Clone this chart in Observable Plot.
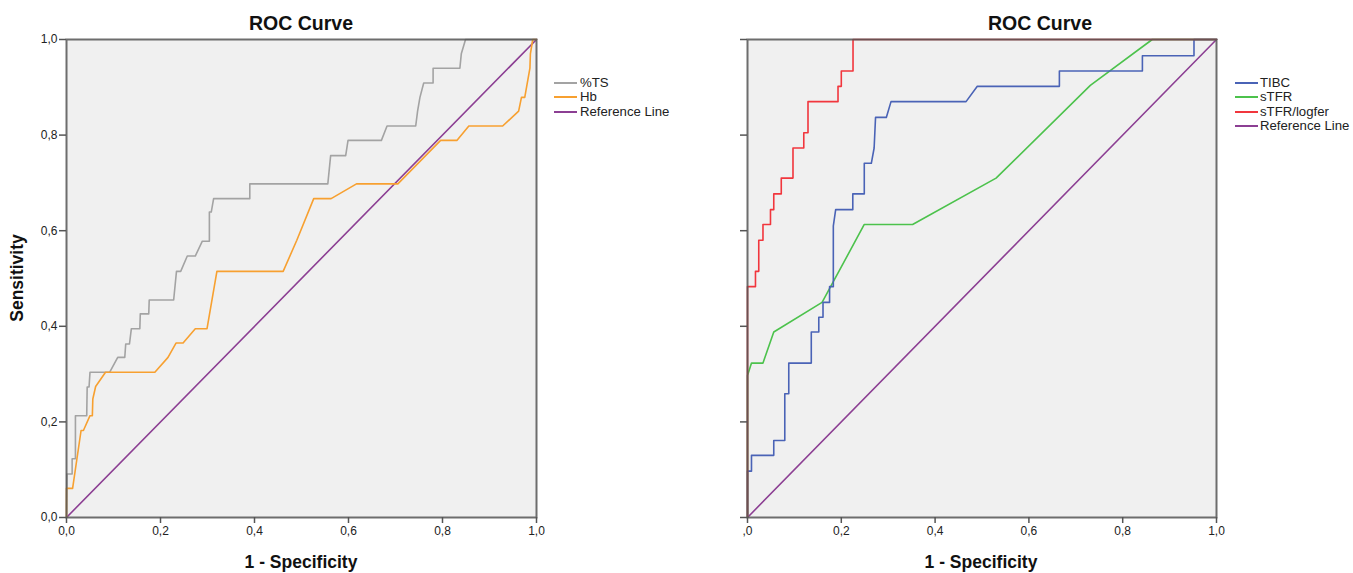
<!DOCTYPE html>
<html>
<head>
<meta charset="utf-8">
<script src="https://cdn.jsdelivr.net/npm/d3@7"></script>
<script src="https://cdn.jsdelivr.net/npm/@observablehq/plot@0.6"></script>
<style>
  html, body { margin: 0; padding: 0; background: #fff; }
  body { width: 1353px; height: 573px; position: relative; overflow: hidden; font-family: "Liberation Sans", Arial, sans-serif; }
  .abs { position: absolute; white-space: nowrap; }
  .title { font-weight: bold; font-size: 19.5px; color: #111; transform: translate(-50%, -50%); line-height: 1; }
  .axlab { font-weight: bold; font-size: 17.5px; color: #111; line-height: 1; }
  .leg { font-size: 13.2px; color: #222; line-height: 1; }
  .sw { position: absolute; height: 2px; width: 23px; }
  .panel { position: absolute; top: 0; overflow: hidden; }
</style>
</head>
<body>
<div id="left" class="panel" style="left:0px;width:545px;height:573px;"></div>
<div id="right" class="panel" style="left:738px;width:495px;height:573px;"></div>
<div id="texts"></div>
<script>
// ---- Data ----
const tickValues = [0, 0.2, 0.4, 0.6, 0.8, 1.0];
const refLineX = [0, 1];
const refLineY = [0, 1];

// Left panel: %TS
const tsX = [0,0.001,0.012,0.012,0.019,0.019,0.043,0.044,0.048,0.05,0.092,0.109,0.124,0.126,0.134,0.138,0.156,0.157,0.175,0.176,0.228,0.234,0.243,0.257,0.274,0.289,0.304,0.304,0.308,0.313,0.39,0.39,0.556,0.562,0.594,0.599,0.67,0.682,0.743,0.747,0.752,0.76,0.78,0.78,0.837,0.84,0.849,1];
const tsY = [0,0.091,0.091,0.123,0.123,0.213,0.213,0.273,0.273,0.304,0.304,0.335,0.335,0.363,0.363,0.395,0.395,0.426,0.426,0.455,0.455,0.515,0.515,0.547,0.547,0.578,0.578,0.639,0.639,0.667,0.667,0.698,0.698,0.757,0.757,0.789,0.789,0.819,0.819,0.85,0.879,0.909,0.909,0.94,0.94,0.97,1,1];

// Left panel: Hb
const hbX = [0,0,0.013,0.031,0.036,0.05,0.055,0.056,0.062,0.083,0.188,0.216,0.233,0.248,0.274,0.299,0.32,0.461,0.49,0.526,0.563,0.617,0.705,0.796,0.831,0.856,0.928,0.962,0.968,0.975,0.986,0.987,0.992,1];
const hbY = [0,0.061,0.061,0.182,0.182,0.213,0.213,0.248,0.274,0.304,0.304,0.335,0.365,0.365,0.395,0.395,0.515,0.515,0.58,0.667,0.667,0.698,0.698,0.789,0.789,0.819,0.819,0.85,0.879,0.879,0.94,0.97,1,1];

// Right panel: TIBC
const tibcX = [0,0,0.0085,0.0085,0.056,0.056,0.0795,0.0795,0.088,0.088,0.136,0.136,0.152,0.152,0.161,0.161,0.175,0.175,0.183,0.183,0.188,0.2245,0.2245,0.249,0.249,0.264,0.27,0.273,0.296,0.306,0.466,0.49,0.665,0.665,0.842,0.842,0.952,0.952,1];
const tibcY = [0,0.097,0.097,0.13,0.13,0.161,0.161,0.259,0.259,0.323,0.323,0.388,0.388,0.419,0.419,0.45,0.45,0.483,0.483,0.61,0.644,0.644,0.677,0.677,0.741,0.741,0.773,0.837,0.837,0.87,0.87,0.902,0.902,0.934,0.934,0.966,0.966,1,1];

// Right panel: sTFR
const stfrX = [0,0,0.0085,0.033,0.056,0.159,0.249,0.352,0.53,0.731,0.863,1];
const stfrY = [0,0.297,0.323,0.323,0.388,0.45,0.613,0.613,0.71,0.904,1,1];

// Right panel: sTFR/logfer
const ratioX = [0,0,0.017,0.017,0.024,0.024,0.033,0.033,0.049,0.049,0.056,0.056,0.072,0.072,0.097,0.097,0.12,0.12,0.129,0.129,0.193,0.193,0.2,0.2,0.225,0.225,1];
const ratioY = [0,0.483,0.483,0.515,0.515,0.58,0.58,0.613,0.613,0.644,0.644,0.677,0.677,0.71,0.71,0.773,0.773,0.805,0.805,0.87,0.87,0.902,0.902,0.934,0.934,1,1];

const leftSeries = ["%TS", "Hb", "Reference Line"];
const rightSeries = ["TIBC", "sTFR", "sTFR/logfer", "Reference Line"];
const colors = {"%TS": "#a3a3a3", "Hb": "#f7a030", "TIBC": "#4a63b6", "sTFR": "#4cc24c", "sTFR/logfer": "#f1363d", "Reference Line": "#8c3f93"};

// ---- Build ----
const pts = (xs, ys) => xs.map((x, i) => ({x, y: ys[i]}));
const fmt = d => d.toFixed(1).replace(".", ",");
// the right panel is cropped at its left edge in the reference: its first x label reads ",0"
const fmtRight = d => d === 0 ? ",0" : fmt(d);

function panel({width, marginLeft, marginRight, series, xFormat, yFormat}) {
  const marks = [Plot.frame({fill: "#f0f0f0", stroke: null})];
  for (const s of series) {
    marks.push(Plot.line(s.data, {x: "x", y: "y", stroke: colors[s.name], strokeWidth: 1.6}));
  }
  marks.push(Plot.frame({stroke: "#555", strokeWidth: 2, strokeOpacity: 0.85}));
  marks.push(Plot.axisX({ticks: tickValues, tickFormat: xFormat, tickSize: 6, tickPadding: 3, label: null, stroke: "#555", strokeWidth: 1.5}));
  marks.push(Plot.axisY({ticks: tickValues, tickFormat: yFormat, tickSize: 7, tickPadding: 2, label: null, stroke: "#555", strokeWidth: 1.5}));
  return Plot.plot({
    width, height: 573,
    marginLeft, marginRight, marginTop: 39, marginBottom: 56,
    x: {domain: [0, 1]},
    y: {domain: [0, 1]},
    style: {fontSize: "12px", fontFamily: "'Liberation Sans', Arial, sans-serif", color: "#222", background: "transparent"},
    marks
  });
}

const ref = pts(refLineX, refLineY);
document.getElementById("left").append(panel({
  width: 545, marginLeft: 66, marginRight: 9, xFormat: fmt, yFormat: fmt,
  series: [
    {name: "Reference Line", data: ref},
    {name: "%TS", data: pts(tsX, tsY)},
    {name: "Hb", data: pts(hbX, hbY)}
  ]
}));
document.getElementById("right").append(panel({
  width: 495, marginLeft: 9, marginRight: 17, xFormat: fmtRight, yFormat: () => "",
  series: [
    {name: "Reference Line", data: ref},
    {name: "sTFR", data: pts(stfrX, stfrY)},
    {name: "TIBC", data: pts(tibcX, tibcY)},
    {name: "sTFR/logfer", data: pts(ratioX, ratioY)}
  ]
}));

// ---- Titles, axis labels, legends ----
const T = document.getElementById("texts");
function add(html, cls, style) {
  const d = document.createElement("div");
  d.className = "abs " + cls;
  d.setAttribute("style", style);
  d.innerHTML = html;
  T.append(d);
  return d;
}
add("ROC Curve", "title", "left:301px;top:24px;");
add("ROC Curve", "title", "left:1040px;top:24px;");
add("1 - Specificity", "axlab", "left:301px;top:563px;transform:translate(-50%,-50%);");
add("1 - Specificity", "axlab", "left:981px;top:563px;transform:translate(-50%,-50%);");
add("Sensitivity", "axlab", "left:18px;top:278px;transform:translate(-50%,-50%) rotate(-90deg);");

function legend(names, swLeft, textLeft, top0, step) {
  names.forEach((n, i) => {
    const y = top0 + i * step;
    const s = document.createElement("div");
    s.className = "sw";
    s.setAttribute("style", `left:${swLeft}px;top:${y - 1}px;background:${colors[n]};`);
    T.append(s);
    add(n, "leg", `left:${textLeft}px;top:${y}px;transform:translateY(-50%);`);
  });
}
legend(leftSeries, 554, 580, 82.5, 14.5);
legend(rightSeries, 1235, 1260, 82.5, 14.5);
</script>
</body>
</html>
